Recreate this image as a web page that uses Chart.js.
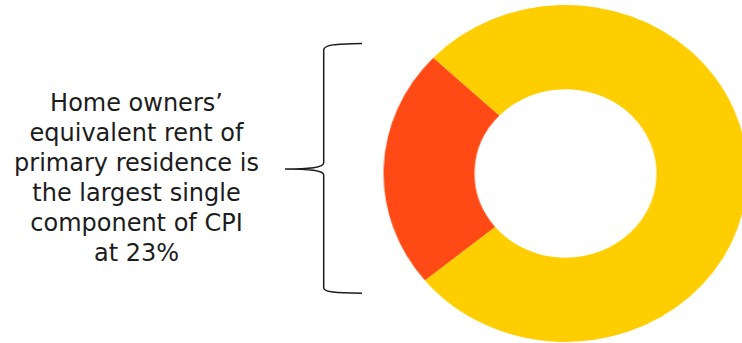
<!DOCTYPE html>
<html>
<head>
<meta charset="utf-8">
<script src="https://cdn.jsdelivr.net/npm/chart.js@4"></script>
<style>
  html,body{margin:0;padding:0;background:#fff;width:742px;height:343px;overflow:hidden;position:relative;}
  #note{position:absolute;left:-3.5px;top:88px;width:280px;text-align:center;
    font-family:"DejaVu Sans",sans-serif;font-size:24px;line-height:30px;color:#1c1c1c;white-space:nowrap;}
  #brace{position:absolute;left:0;top:0;}
  #wrap{position:absolute;left:396.5px;top:5px;width:337px;height:337px;transform:scaleX(1.08);transform-origin:center center;}
</style>
</head>
<body>
<div id="note">Home owners’<br>equivalent rent of<br>primary residence is<br>the largest single<br>component of CPI<br>at 23%</div>
<svg id="brace" width="742" height="343">
  <path d="M362,43.5 C335,44 324,44.5 323.7,50 L323.7,163 C323.5,167.5 310,169 285,169 C310,169 323.5,170.5 323.7,175 L323.7,288 C324,292 335,293 362,293.3"
        fill="none" stroke="#1c1c1c" stroke-width="1.5"/>
</svg>
<div id="wrap"><canvas id="chart" width="337" height="337"></canvas></div>
<script>
const labels = ['Owners\u2019 equivalent rent of primary residence', 'All other CPI components'];
const values = [23, 77];
const colors = ['#FF4A16', '#FFCE00'];

new Chart(document.getElementById('chart').getContext('2d'), {
  type:'doughnut',
  data:{ labels, datasets:[{ data: values, backgroundColor: colors, borderWidth:0, hoverOffset:0 }] },
  options:{
    responsive:false,
    animation:false,
    cutout:'50%',
    rotation:230.6,
    layout:{ padding:0 },
    plugins:{ legend:{ display:false }, tooltip:{ enabled:false } }
  }
});
</script>
</body>
</html>
